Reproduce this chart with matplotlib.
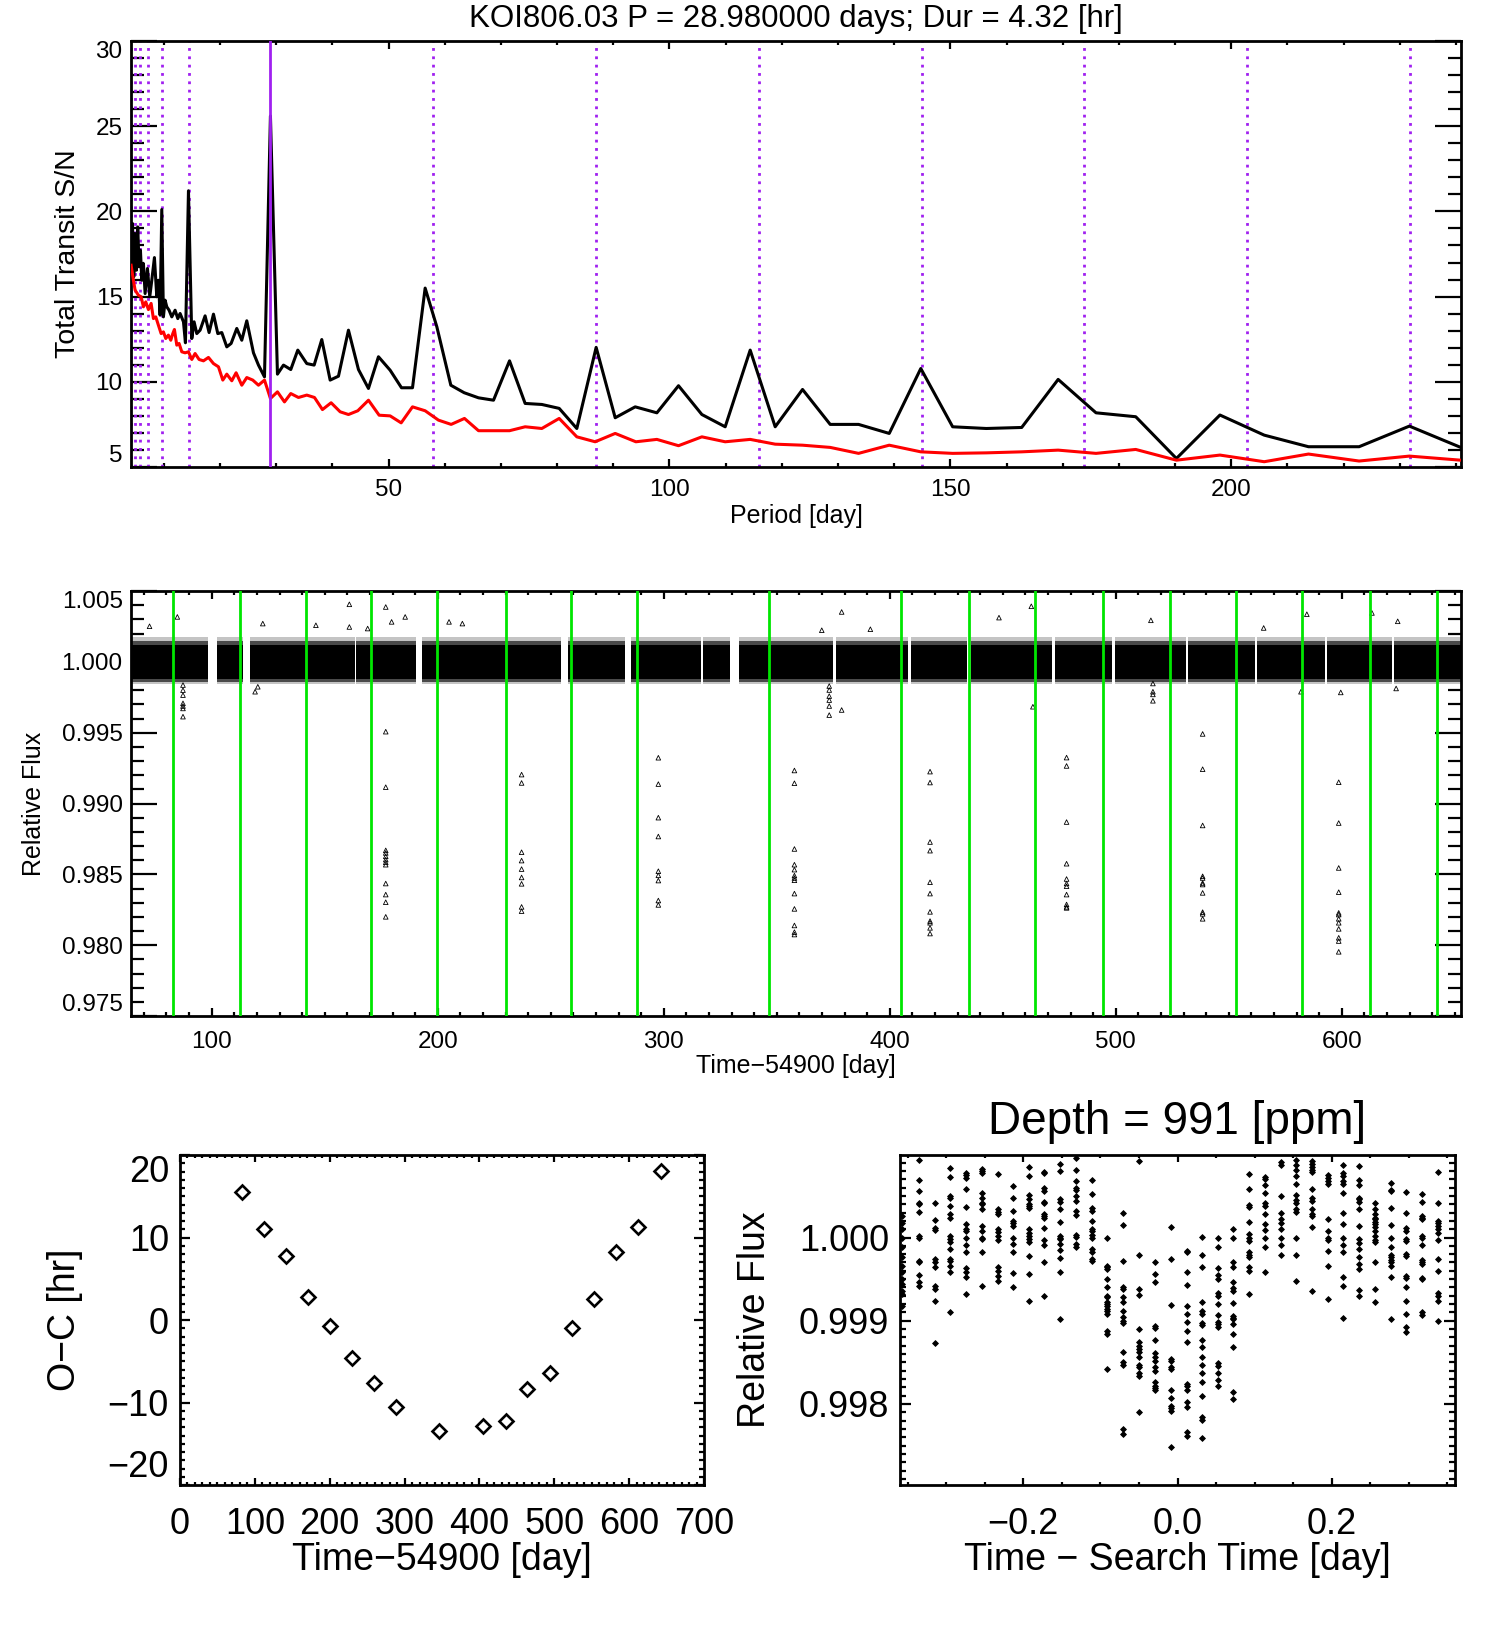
import matplotlib
matplotlib.use('Agg')
import matplotlib.pyplot as plt
from matplotlib.ticker import MultipleLocator, FixedLocator, FuncFormatter

plt.rcParams['font.family'] = ['Liberation Sans', 'DejaVu Sans']
plt.rcParams['axes.unicode_minus'] = True

# ------------------------------------------------------------------ data
title_top = "KOI806.03 P = 28.980000 days; Dur = 4.32 [hr]"
title_depth = "Depth = 991 [ppm]"
period = 28.98
harm_mult = [2, 3, 4, 5, 6, 7, 8]
harm_div = [2, 3, 4, 5, 6, 7]

black_P = [4.17, 4.41, 4.64, 4.88, 5.12, 5.35, 5.59, 5.83, 6.07, 6.36,
           6.66, 7.08, 7.49, 7.85, 8.32, 8.74, 9.03, 9.33, 9.63, 9.92,
           10.22, 10.52, 10.93, 11.41, 12.00, 12.48, 12.89, 13.49, 13.84, 14.38,
           14.97, 15.38, 15.86, 16.45, 17.34, 18.05, 18.83, 19.60, 20.31, 21.20,
           21.97, 22.98, 23.87, 24.76, 25.95, 26.84, 27.91, 28.97, 30.22, 31.29,
           32.59, 33.84, 35.44, 36.75, 38.11, 39.60, 41.08, 42.86, 44.64, 46.42,
           48.20, 50.28, 52.30, 54.26, 56.51, 58.59, 61.08, 63.45, 66.01, 68.68,
           71.53, 74.31, 77.28, 80.37, 83.51, 86.95, 90.34, 93.90, 97.76, 101.61,
           105.77, 109.92, 114.37, 118.82, 123.69, 128.61, 133.66, 139.12, 144.74, 150.41,
           156.40, 162.70, 169.19, 175.93, 183.0, 190.24, 197.99, 205.87, 213.75, 222.76,
           231.71, 240.85]
black_SN = [18.51, 19.29, 16.16, 18.70, 16.55, 19.09, 16.75, 17.72, 15.96, 16.94,
            15.18, 16.65, 14.99, 15.96, 17.29, 14.99, 15.96, 13.91, 20.11, 13.81,
            14.79, 14.40, 14.20, 13.81, 14.20, 13.71, 14.01, 13.52, 12.29, 21.21,
            12.54, 13.52, 12.83, 13.03, 13.87, 12.89, 13.97, 12.83, 12.89, 12.05,
            12.25, 13.13, 12.44, 13.58, 11.70, 10.98, 10.29, 25.6, 10.45, 10.98,
            10.72, 11.86, 11.07, 10.98, 12.48, 10.10, 10.33, 13.03, 10.72, 9.61,
            11.47, 10.68, 9.65, 9.65, 15.5, 13.23, 9.80, 9.36, 9.06, 8.92,
            11.23, 8.73, 8.67, 8.44, 7.26, 12.02, 7.89, 8.53, 8.18, 9.77,
            8.08, 7.36, 11.86, 7.36, 9.55, 7.50, 7.50, 6.97, 10.78, 7.36,
            7.26, 7.32, 10.14, 8.18, 7.95, 5.50, 8.05, 6.87, 6.19, 6.19,
            7.40, 6.15]

red_P = [4.17, 4.58, 4.88, 5.47, 5.95, 6.36, 6.78, 7.25, 7.73, 8.14,
         8.56, 9.03, 9.51, 9.92, 10.34, 10.81, 11.23, 11.59, 11.88, 12.30,
         12.71, 13.19, 13.78, 14.38, 14.97, 15.56, 16.27, 17.05, 17.94, 18.83,
         19.72, 20.49, 21.20, 22.09, 22.86, 23.87, 24.76, 25.83, 26.84, 27.91,
         28.97, 30.22, 31.47, 32.59, 33.96, 35.44, 36.81, 38.23, 39.77, 41.38,
         42.86, 44.52, 46.42, 48.32, 50.28, 52.24, 54.26, 56.51, 58.88, 61.14,
         63.51, 66.01, 68.68, 71.53, 74.31, 77.28, 80.37, 83.51, 86.78, 90.34,
         94.02, 97.76, 101.61, 105.77, 109.92, 114.37, 118.82, 123.69, 128.61, 133.66,
         139.12, 144.74, 150.41, 156.40, 162.70, 169.19, 175.93, 183.0, 190.24, 197.99,
         205.87, 213.75, 222.76, 231.71, 240.85]
red_SN = [16.84, 15.96, 15.38, 15.08, 14.99, 14.40, 14.69, 14.24, 14.60, 13.71,
          13.81, 13.32, 12.83, 12.93, 12.54, 12.74, 12.44, 12.83, 13.07, 12.15,
          12.25, 11.76, 11.70, 11.76, 11.31, 11.66, 11.31, 11.23, 11.43, 11.07,
          10.88, 10.10, 10.45, 10.06, 10.53, 9.80, 10.25, 10.10, 9.80, 10.10,
          9.02, 9.41, 8.82, 9.31, 9.08, 9.22, 9.08, 8.37, 8.77, 8.24,
          8.08, 8.30, 8.92, 8.04, 8.00, 7.59, 8.53, 8.30, 7.75, 7.50,
          7.85, 7.13, 7.13, 7.13, 7.36, 7.26, 7.85, 6.77, 6.48, 6.97,
          6.48, 6.62, 6.25, 6.77, 6.48, 6.62, 6.34, 6.28, 6.15, 5.80,
          6.28, 5.89, 5.80, 5.83, 5.89, 5.99, 5.80, 6.03, 5.40, 5.70,
          5.31, 5.76, 5.35, 5.64, 5.40]

# individual transit times (green lines) and O-C
transit_times = [82.8, 112.6, 141.9, 170.5, 199.8, 230.2, 258.9, 288.1, 346.6,
                 405.1, 435.0, 464.2, 494.1, 524.0, 553.2, 582.5, 612.3, 642.2]
oc_hours = [15.5, 11.0, 7.7, 2.8, -0.7, -4.6, -7.6, -10.5, -13.4,
            -12.9, -12.3, -8.4, -6.4, -1.0, 2.5, 8.3, 11.3, 18.1]

# light curve: data segments and noise envelope
lc_seg_start = [64.5, 102.5, 117.0, 164.0, 193.0, 257.5, 285.5, 317.5, 333.5,
                376.0, 409.5, 436.0, 473.0, 499.5, 532.0, 562.5, 593.5, 623.0]
lc_seg_end = [98.5, 114.0, 163.2, 190.5, 254.5, 283.0, 316.3, 329.5, 374.8,
              408.0, 434.0, 471.6, 498.5, 531.0, 561.5, 592.5, 622.3, 652.5]
lc_core = (0.99880, 1.00122)
lc_mid = (0.99856, 1.00150)
lc_halo = (0.99842, 1.00172)

# in-transit and outlying light-curve points
lc_pt_t = ([87.3] * 7 + [177.0] * 12 + [237.1] * 9 + [297.6] * 9 + [357.8] * 13 +
           [373.2] * 6 + [417.8] * 11 + [478.2] * 11 + [516.4] * 4 + [538.4] * 11 +
           [598.6] * 12 +
           [72.5, 160.9, 177.0, 185.6, 179.6, 84.8, 205.0, 210.9, 122.6, 146.1,
            169.0, 160.9, 119.2, 120.4, 378.7, 462.6, 448.3, 515.5, 613.3, 624.7,
            584.5, 565.4, 369.9, 391.4, 378.7, 599.5, 624.0, 463.3, 581.9])
lc_pt_f = ([0.99836, 0.99800, 0.99765, 0.99707, 0.99688, 0.99671, 0.99613] +
           [0.99507, 0.99115, 0.98669, 0.98651, 0.98627, 0.98604, 0.98585, 0.98568,
            0.98435, 0.98357, 0.98303, 0.98200] +
           [0.99204, 0.99145, 0.98656, 0.98597, 0.98537, 0.98478, 0.98433, 0.98270, 0.98240] +
           [0.99323, 0.99137, 0.98900, 0.98767, 0.98522, 0.98493, 0.98456, 0.98315, 0.98284] +
           [0.99233, 0.99143, 0.98679, 0.98568, 0.98533, 0.98491, 0.98474, 0.98458,
            0.98364, 0.98256, 0.98139, 0.98092, 0.98075] +
           [0.99829, 0.99801, 0.99758, 0.99730, 0.99688, 0.99624] +
           [0.99225, 0.99148, 0.98728, 0.98667, 0.98444, 0.98364, 0.98235, 0.98170,
            0.98158, 0.98122, 0.98082] +
           [0.99324, 0.99265, 0.98869, 0.98575, 0.98467, 0.98435, 0.98416, 0.98357,
            0.98287, 0.98270, 0.98263] +
           [0.99847, 0.99789, 0.99770, 0.99725] +
           [0.99491, 0.99242, 0.98845, 0.98486, 0.98474, 0.98439, 0.98428, 0.98369,
            0.98233, 0.98221, 0.98186] +
           [0.99150, 0.98862, 0.98545, 0.98374, 0.98228, 0.98216, 0.98186, 0.98158,
            0.98115, 0.98052, 0.98029, 0.97953] +
           [1.00251, 1.00406, 1.00387, 1.00317, 1.00282, 1.00317, 1.00282, 1.00270,
            1.00270, 1.00258, 1.00235, 1.00246, 0.99789, 0.99824, 1.00352, 1.00392,
            1.00312, 1.00293, 1.00345, 1.00286, 1.00336, 1.00239, 1.00223, 1.00230,
            0.99660, 0.99784, 0.99812, 0.99683, 0.99789])

# phase-folded data: one column per cadence offset (day), flux offsets in ppm
fold_dt = [-0.358, -0.335, -0.315, -0.295, -0.274, -0.254, -0.233, -0.213, -0.193,
           -0.173, -0.152, -0.132, -0.111, -0.091, -0.0705, -0.050, -0.029, -0.009,
           0.012, 0.032, 0.052, 0.072, 0.093, 0.113, 0.134, 0.154, 0.175, 0.195,
           0.215, 0.236, 0.256, 0.277, 0.296, 0.317, 0.338]
fold_ppm = [
    [260, 180, 100, 0, -120, -240, -340, -420, -500, -560, -640, -680, -820],
    [928, 692, 560, 420, 400, 308, 20, 0, -280, -300, -452, -532, -580],
    [420, 212, 112, 92, -260, -300, -360, -580, -620, -760, -1272],
    [832, 728, 500, 480, 380, 288, 240, 20, -20, -60, -140, -260, -280, -340, -420, -900],
    [780, 752, 720, 580, 368, 160, 100, 80, -8, -88, -180, -368, -420, -480, -680],
    [820, 800, 780, 532, 480, 420, 400, 340, 140, 80, 0, -20, -180, -580],
    [768, 340, 312, 280, 100, 72, 20, -32, -360, -408, -460, -528],
    [620, 480, 320, 200, 180, 140, 0, -80, -180, -432, -600],
    [852, 740, 512, 460, 400, 380, 352, 100, 60, 20, -20, -60, -220, -440, -760],
    [792, 772, 600, 560, 432, 412, 288, 260, 240, 120, -32, -88, -300, -700],
    [880, 800, 460, 432, 340, 188, 20, -8, -20, -80, -148, -248, -420, -980],
    [952, 812, 680, 592, 568, 500, 440, 320, 268, 32, 8, -80, -120],
    [692, 528, 360, 320, 200, 100, 80, 32, -8, -140, -180, -260, -280],
    [0, -340, -360, -380, -500, -600, -708, -720, -780, -800, -820, -860, -880, -920,
     -1120, -1160, -1580],
    [292, 152, -288, -600, -620, -712, -780, -880, -952, -1008, -1032, -1380, -1500,
     -1532, -2300, -2360],
    [920, -212, -620, -688, -1100, -1260, -1300, -1340, -1380, -1432, -1532, -1560,
     -1632, -1660, -2100],
    [-292, -440, -532, -1060, -1088, -1228, -1392, -1432, -1488, -1560, -1600, -1740,
     -1780, -1808, -1832],
    [128, -260, -812, -1460, -1480, -1560, -1580, -1832, -1928, -2020, -2048, -2080, -2520],
    [-160, -180, -420, -568, -820, -920, -1012, -1120, -1260, -1760, -1780, -1832, -1972,
     -2040, -2340, -2380],
    [8, -212, -352, -772, -888, -920, -1028, -1048, -1232, -1320, -1440, -1528, -1632,
     -1732, -1900, -2160, -2192, -2408],
    [0, -120, -368, -448, -500, -672, -700, -800, -932, -1020, -1040, -1072, -1508, -1540,
     -1632, -1712, -1780],
    [100, -8, -300, -360, -540, -608, -640, -788, -940, -968, -980, -1040, -1160, -1312,
     -1860, -1940],
    [760, 580, 392, 368, 192, 40, 0, -48, -180, -208, -240, -360, -400, -680],
    [732, 700, 628, 540, 420, 380, 280, 168, 92, -8, -120, -420],
    [912, 872, 500, 300, 220, 180, 100, -8, -88, -212],
    [932, 872, 808, 740, 648, 508, 448, 420, 340, 312, -8, -212, -528],
    [920, 888, 848, 812, 788, 580, 480, 440, 340, 280, 260, 132, -640],
    [752, 720, 680, 648, 220, 80, -8, -32, -168, -340, -740],
    [868, 780, 740, 680, 648, 540, 300, 160, -8, -88, -180, -472, -580, -972],
    [860, 688, 628, 480, 460, 432, 340, 140, -20, -72, -140, -232, -320, -380, -632, -700],
    [412, 340, 280, 240, 220, 192, 160, 128, 80, 20, -32, -60, -300, -620, -780],
    [652, 568, 560, 352, 152, -8, -120, -212, -240, -272, -300, -340, -480, -980],
    [552, 300, 112, 80, -20, -40, -200, -220, -460, -488, -592, -760, -920, -1080, -1140],
    [520, 432, 260, 240, 220, 20, -8, -88, -272, -292, -320, -492, -500, -900, -928],
    [792, 420, 200, 180, 140, 100, 60, -32, -260, -400, -672, -700, -760, -1000],
]
depth_ppm = 991

# ------------------------------------------------------------------ helpers
W, H = 1500.0, 1650.0
PURPLE = '#a020f0'
GREEN = '#00e600'


def axes_px(fig, x0, y0, x1, y1):
    return fig.add_axes([x0 / W, 1 - y1 / H, (x1 - x0) / W, (y1 - y0) / H])


def style(ax, xmaj, xmin, ymaj, ymin, fs, xpad, ypad):
    for s in ax.spines.values():
        s.set_linewidth(2.0)
    ax.tick_params(which='both', direction='in', top=True, right=True,
                   labelsize=fs, width=1.6)
    ax.tick_params(axis='x', which='major', length=xmaj, pad=xpad)
    ax.tick_params(axis='x', which='minor', length=xmin)
    ax.tick_params(axis='y', which='major', length=ymaj, pad=ypad)
    ax.tick_params(axis='y', which='minor', length=ymin)


def edge_ylabels(ax):
    ticks = ax.yaxis.get_major_ticks()
    ticks[0].label1.set_verticalalignment('bottom')
    ticks[-1].label1.set_verticalalignment('top')


def minus_fmt(fmt):
    return FuncFormatter(lambda v, p: (fmt % v).replace('-', '\u2212'))


def place_labels(ax, xl, yl, fsx, fsy, xy, yx):
    ax.set_xlabel(xl, fontsize=fsx)
    ax.set_ylabel(yl, fontsize=fsy)
    ax.xaxis.set_label_coords(0.5, xy)
    ax.yaxis.set_label_coords(yx, 0.5)
    ax.xaxis.label.set_verticalalignment('center')
    ax.yaxis.label.set_verticalalignment('center')


fig = plt.figure(figsize=(15, 16.5), dpi=100)

# ------------------------------------------------------------------ top panel
ax1 = axes_px(fig, 131, 41, 1461, 467)
ax1.plot(black_P, black_SN, color='black', lw=2.2, zorder=3)
ax1.plot(red_P, red_SN, color='#ff0000', lw=2.2, zorder=3)
for n in harm_mult:
    ax1.axvline(period * n, color=PURPLE, lw=2.0, ls=(0, (1, 2)), zorder=2)
for n in harm_div:
    ax1.axvline(period / n, color=PURPLE, lw=2.0, ls=(0, (1, 2)), zorder=2)
ax1.axvline(period, color=PURPLE, lw=2.0, zorder=4)
ax1.set_xlim(4.15, 240.9)
ax1.set_ylim(5, 30)
ax1.xaxis.set_major_locator(FixedLocator([50, 100, 150, 200]))
ax1.xaxis.set_minor_locator(MultipleLocator(10))
ax1.yaxis.set_major_locator(FixedLocator([5, 10, 15, 20, 25, 30]))
ax1.yaxis.set_minor_locator(MultipleLocator(1))
style(ax1, 6.1, 3.0, 19, 9.5, 17.5, 9, 6)
edge_ylabels(ax1)
place_labels(ax1, 'Period [day]', 'Total Transit S/N', 18, 20.5, -0.115, -0.0474)
fig.text(796 / W, 1 - 19 / H, title_top, fontsize=22.5, ha='center', va='center')

# ------------------------------------------------------------------ light curve
ax2 = axes_px(fig, 131, 591, 1461, 1016)
for s, e in zip(lc_seg_start, lc_seg_end):
    ax2.fill_between([s, e], lc_halo[0], lc_halo[1], color='#c4c4c4', lw=0, zorder=1)
    ax2.fill_between([s, e], lc_mid[0], lc_mid[1], color='#4a4a4a', lw=0, zorder=1)
    ax2.fill_between([s, e], lc_core[0], lc_core[1], color='black', lw=0, zorder=2)
ax2.scatter(lc_pt_t, lc_pt_f, marker='^', s=11, facecolors='none',
            edgecolors='black', linewidths=0.6, zorder=3)
for t in transit_times:
    ax2.axvline(t, color=GREEN, lw=2.0, zorder=4)
ax2.set_xlim(64.3, 652.7)
ax2.set_ylim(0.975, 1.005)
ax2.xaxis.set_major_locator(MultipleLocator(100))
ax2.xaxis.set_minor_locator(MultipleLocator(10))
ax2.yaxis.set_major_locator(FixedLocator([0.975, 0.980, 0.985, 0.990, 0.995, 1.000, 1.005]))
ax2.yaxis.set_minor_locator(MultipleLocator(0.001))
ax2.yaxis.set_major_formatter(minus_fmt('%.3f'))
style(ax2, 6.1, 3.0, 19, 9.5, 17.5, 11, 6)
edge_ylabels(ax2)
place_labels(ax2, 'Time\u221254900 [day]', 'Relative Flux', 18, 18, -0.118, -0.0729)

# ------------------------------------------------------------------ O-C
ax3 = axes_px(fig, 180, 1155, 704, 1485)
ax3.plot(transit_times, oc_hours, ls='none', marker='D', ms=7.4, mfc='none',
         mec='black', mew=1.9)
ax3.set_xlim(0, 700)
ax3.set_ylim(-20, 20)
ax3.xaxis.set_major_locator(MultipleLocator(100))
ax3.xaxis.set_minor_locator(MultipleLocator(10))
ax3.yaxis.set_major_locator(FixedLocator([-20, -10, 0, 10, 20]))
ax3.yaxis.set_minor_locator(MultipleLocator(1))
ax3.xaxis.set_major_formatter(minus_fmt('%d'))
ax3.yaxis.set_major_formatter(minus_fmt('%d'))
style(ax3, 4.8, 2.4, 7.5, 3.8, 26, 16, 8)
edge_ylabels(ax3)
place_labels(ax3, 'Time\u221254900 [day]', 'O\u2212C [hr]', 27, 27, -0.227, -0.219)

# ------------------------------------------------------------------ folded transit
ax4 = axes_px(fig, 900, 1155, 1455, 1485)
for dt, col in zip(fold_dt, fold_ppm):
    ax4.plot([dt] * len(col), [1 + v * 1e-6 for v in col], ls='none', marker='D',
             ms=3.0, color='black', mew=0.6)
ax4.set_xlim(-0.36, 0.36)
ax4.set_ylim(1 - 3 * depth_ppm * 1e-6, 1 + depth_ppm * 1e-6)
ax4.xaxis.set_major_locator(FixedLocator([-0.2, 0.0, 0.2]))
ax4.xaxis.set_minor_locator(MultipleLocator(0.05))
ax4.yaxis.set_major_locator(FixedLocator([0.998, 0.999, 1.000]))
ax4.yaxis.set_minor_locator(MultipleLocator(0.0001))
ax4.xaxis.set_major_formatter(minus_fmt('%.1f'))
ax4.yaxis.set_major_formatter(minus_fmt('%.3f'))
style(ax4, 4.8, 2.4, 8.0, 4.0, 26, 16, 8)
place_labels(ax4, 'Time \u2212 Search Time [day]', 'Relative Flux', 27, 27, -0.227, -0.261)
fig.text(1177.5 / W, 1 - 1122 / H, title_depth, fontsize=33, ha='center', va='center')

fig.savefig('out.png', dpi=100)
